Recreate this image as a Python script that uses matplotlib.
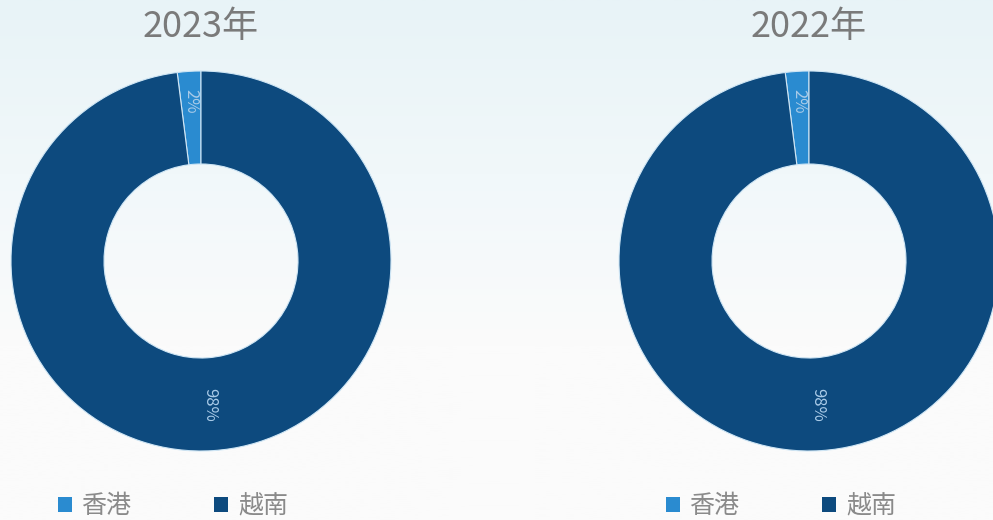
import numpy as np
import matplotlib.pyplot as plt
from matplotlib.colors import LinearSegmentedColormap
from matplotlib.patches import Patch

plt.rcParams['font.family'] = ['Noto Sans CJK SC', 'DejaVu Sans']

years = ['2023年', '2022年']
regions = ['香港', '越南']
shares_2023 = [2, 98]
shares_2022 = [2, 98]
shares = [shares_2023, shares_2022]
colors = ['#2a8bd0', '#0d4a7e']

W, H = 993, 520
fig = plt.figure(figsize=(W / 100, H / 100), dpi=100)

# background: light blue at top fading to off-white
bg = fig.add_axes([0, 0, 1, 1], zorder=-10)
cmap = LinearSegmentedColormap.from_list('bg', ['#e8f3f7', '#f1f8fa', '#fbfbfb', '#fbfbfb'])
grad = np.linspace(0, 1, 256).reshape(-1, 1)
bg.imshow(grad, aspect='auto', cmap=cmap, extent=[0, 1, 0, 1], origin='upper')
bg.axis('off')

centers = [201, 809]
R = 190
inner = 97

for cx, year, vals in zip(centers, years, shares):
    ax = fig.add_axes([(cx - R) / W, (H - 261 - R) / H, 2 * R / W, 2 * R / H])
    wedges, _ = ax.pie(vals, colors=colors, startangle=90, counterclock=True,
                       radius=1, wedgeprops=dict(width=(R - inner) / R, edgecolor='#cfe6f5',
                                                 linewidth=0.8))
    ax.set_xlim(-1, 1)
    ax.set_ylim(-1, 1)
    ax.set_aspect('auto')
    ax.axis('off')
    # percentage labels, rotated along the ring
    for w, v, r in zip(wedges, vals, [0.84, 0.76]):
        ang = np.deg2rad((w.theta1 + w.theta2) / 2)
        ax.text(r * np.cos(ang), r * np.sin(ang), f'{v}%', rotation=-90,
                ha='center', va='center', fontsize=12, color='#a9cbe8', fontweight='light')
    fig.text(cx / W, 1 - 27 / H, year, ha='center', va='center', fontsize=26,
             color='#7a7a7a', fontweight='light')

    handles = [Patch(facecolor=c, edgecolor='none') for c in colors]
    fig.legend(handles, regions, loc='center left', bbox_to_anchor=((cx - 166) / W, 1 - 506 / H),
               ncol=2, frameon=False, prop=dict(size=18, weight='light'), labelcolor='#8a8a8a',
               handlelength=0.56, handleheight=0.56, handletextpad=0.4, columnspacing=3.3)

fig.savefig('out.png', dpi=100)
